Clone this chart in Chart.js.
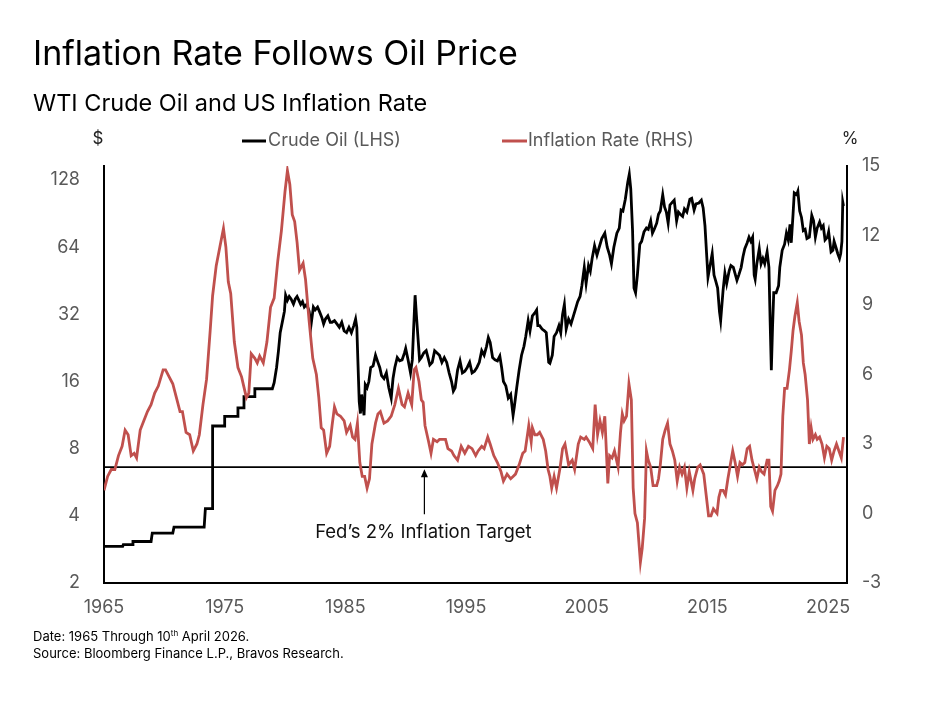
<!DOCTYPE html>
<html>
<head>
<meta charset="utf-8">
<script src="https://cdn.jsdelivr.net/npm/chart.js@4.4.0/dist/chart.umd.min.js"></script>
<style>
  body { margin: 0; background: #fff; font-family: Inter, "Noto Sans", sans-serif; }
  #wrap { position: relative; width: 937px; height: 703px; overflow: hidden; }
  #canvasGrafico { position: absolute; left: 0; top: 0; }
  .txt { position: absolute; white-space: nowrap; color: #000; line-height: 1; }
  #titulo { left: 33px; top: 36px; font-size: 34px; }
  #subtitulo { left: 33px; top: 91px; font-size: 23.5px; }
  #nota { left: 33px; top: 628px; font-size: 13px; line-height: 17px; }
  #nota sup { font-size: 8px; line-height: 0; }
</style>
</head>
<body>
<div id="wrap">
  <canvas id="canvasGrafico" width="937" height="703"></canvas>
  <div class="txt" id="titulo">Inflation Rate Follows Oil Price</div>
  <div class="txt" id="subtitulo">WTI Crude Oil and US Inflation Rate</div>
  <div class="txt" id="nota">Date: 1965 Through 10<sup>th</sup> April 2026.<br>Source: Bloomberg Finance L.P., Bravos Research.</div>
</div>
<script>
// WTI crude oil, $ per barrel (left axis, log scale)
const oilDates = [
  1965.0, 1966.55, 1966.6, 1967.35, 1967.4, 1968.9, 1969.0, 1970.7, 1970.8, 1973.3,
  1973.4, 1973.95, 1974.0, 1974.95, 1975.0, 1976.05, 1976.1, 1976.55, 1976.6, 1977.45,
  1977.5, 1978.95, 1979.1, 1979.3, 1979.45, 1979.6, 1979.8, 1979.95, 1980.05, 1980.2,
  1980.35, 1980.5, 1980.7, 1980.85, 1981.0, 1981.15, 1981.3, 1981.45, 1981.6, 1981.8,
  1982.0, 1982.15, 1982.35, 1982.5, 1982.7, 1982.85, 1983.05, 1983.2, 1983.35, 1983.55,
  1983.75, 1983.9, 1984.1, 1984.3, 1984.5, 1984.7, 1984.9, 1985.1, 1985.3, 1985.5,
  1985.7, 1985.85, 1985.95, 1986.05, 1986.15, 1986.25, 1986.35, 1986.45, 1986.55, 1986.65,
  1986.8, 1986.95, 1987.1, 1987.3, 1987.5, 1987.7, 1987.85, 1988.0, 1988.2, 1988.4,
  1988.6, 1988.8, 1988.95, 1989.1, 1989.3, 1989.5, 1989.7, 1989.9, 1990.0, 1990.2,
  1990.4, 1990.55, 1990.65, 1990.78, 1990.9, 1991.0, 1991.15, 1991.3, 1991.5, 1991.7,
  1991.85, 1992.0, 1992.2, 1992.4, 1992.6, 1992.8, 1993.0, 1993.2, 1993.4, 1993.6,
  1993.8, 1993.95, 1994.1, 1994.3, 1994.5, 1994.7, 1994.9, 1995.1, 1995.3, 1995.5,
  1995.7, 1995.9, 1996.1, 1996.3, 1996.5, 1996.7, 1996.85, 1997.0, 1997.2, 1997.4,
  1997.6, 1997.8, 1997.95, 1998.1, 1998.3, 1998.5, 1998.7, 1998.9, 1999.0, 1999.2,
  1999.4, 1999.6, 1999.8, 1999.95, 2000.15, 2000.3, 2000.5, 2000.7, 2000.85, 2000.95,
  2001.1, 2001.3, 2001.5, 2001.65, 2001.85, 2001.95, 2002.15, 2002.3, 2002.5, 2002.7,
  2002.85, 2003.0, 2003.15, 2003.3, 2003.5, 2003.7, 2003.9, 2004.05, 2004.25, 2004.45,
  2004.6, 2004.8, 2004.95, 2005.15, 2005.3, 2005.45, 2005.65, 2005.85, 2006.0, 2006.25,
  2006.5, 2006.7, 2006.9, 2007.05, 2007.25, 2007.5, 2007.7, 2007.85, 2008.0, 2008.2,
  2008.4, 2008.53, 2008.65, 2008.8, 2008.92, 2009.05, 2009.2, 2009.4, 2009.55, 2009.75,
  2009.95, 2010.1, 2010.3, 2010.45, 2010.6, 2010.8, 2010.95, 2011.1, 2011.3, 2011.45,
  2011.6, 2011.75, 2011.9, 2012.1, 2012.25, 2012.45, 2012.6, 2012.75, 2012.95, 2013.1,
  2013.3, 2013.55, 2013.7, 2013.9, 2014.05, 2014.3, 2014.5, 2014.65, 2014.8, 2014.95,
  2015.05, 2015.25, 2015.4, 2015.55, 2015.7, 2015.85, 2016.0, 2016.1, 2016.3, 2016.45,
  2016.6, 2016.8, 2016.95, 2017.15, 2017.45, 2017.6, 2017.8, 2017.95, 2018.1, 2018.3,
  2018.45, 2018.6, 2018.75, 2018.88, 2018.96, 2019.1, 2019.3, 2019.45, 2019.6, 2019.75,
  2019.95, 2020.1, 2020.2, 2020.3, 2020.4, 2020.5, 2020.7, 2020.9, 2021.0, 2021.2,
  2021.4, 2021.55, 2021.7, 2021.85, 2021.95, 2022.1, 2022.2, 2022.4, 2022.5, 2022.65,
  2022.8, 2022.95, 2023.1, 2023.25, 2023.45, 2023.65, 2023.8, 2023.95, 2024.1, 2024.3,
  2024.45, 2024.6, 2024.75, 2024.95, 2025.05, 2025.25, 2025.4, 2025.5, 2025.65, 2025.8,
  2025.95, 2026.05, 2026.15, 2026.22, 2026.28
];
const oilPrices = [
  2.92, 2.92, 2.97, 2.97, 3.07, 3.07, 3.35, 3.35, 3.56, 3.56,
  4.31, 4.31, 10.11, 10.11, 11.16, 11.16, 12.2, 12.2, 13.7, 13.7,
  14.85, 14.85, 15.8, 18.5, 21.8, 26.5, 30, 33, 39, 37,
  38.5, 37.5, 35.6, 37.5, 38.5, 37, 35.5, 36.5, 34.5, 35.5,
  33, 28.5, 34.5, 33.5, 34.5, 33, 31, 29, 30.5, 31.5,
  29.5, 29.5, 30, 29, 28, 29.5, 27, 26.5, 28, 26.5,
  28.5, 30.5, 28, 19, 13, 11.5, 14, 12.5, 11.3, 15.5,
  15, 16, 18.5, 18.8, 21, 19.5, 18.5, 17, 16.5, 17.5,
  15, 13.5, 16.5, 18.5, 20.5, 19.8, 20, 21.5, 22.5, 20,
  17.5, 20, 27, 39, 31, 26, 20, 20.5, 21.5, 22,
  20.5, 19, 19.5, 22, 21.5, 21, 19.5, 20.5, 19.5, 17.5,
  16, 14.5, 15, 18, 19.8, 17.5, 17.8, 18.5, 19.5, 17.5,
  17.8, 18.5, 19.5, 22, 21, 23, 25.2, 24, 20.5, 20,
  19.8, 20.8, 18.5, 16, 15.3, 13.5, 14, 11.3, 12.3, 15,
  18, 21, 23, 25.5, 30, 27, 31.5, 32.5, 33.5, 28.5,
  28.5, 27.5, 27, 26.5, 19.5, 19.3, 21, 25.5, 26.5, 28.5,
  26.5, 32, 35.5, 27.5, 30.5, 29, 31.5, 33.5, 36.5, 38.5,
  43, 52, 44, 53, 50, 57, 65, 59, 63, 70,
  74, 64, 59, 54, 64, 74, 78, 94, 93, 105,
  125, 136, 117, 76, 42, 40, 48, 66, 68, 75,
  78, 77, 84, 74, 77, 82, 90, 93, 110, 97,
  92, 82, 99, 102, 104, 84, 92, 90, 88, 95,
  92, 105, 106, 94, 100, 101, 104, 96, 80, 58,
  47, 54, 60, 48, 45, 42, 33, 30, 41, 49,
  44, 50, 53, 52, 45.5, 48, 52, 58, 63, 67,
  71, 68, 71, 48, 46, 54, 63, 54, 57, 54,
  61, 52, 30, 18, 28, 40, 40, 43, 52, 62,
  66, 74, 69, 81, 67, 90, 112, 110, 114, 93,
  87, 76, 77, 70, 71, 89, 84, 71, 78, 83,
  78, 80, 69, 71, 75, 61, 62, 68, 64, 60,
  57, 60, 68, 102, 98
];

// US CPI inflation, % year over year (right axis)
const cpiDates = [
  1965.0, 1965.3, 1965.6, 1965.9, 1966.2, 1966.5, 1966.75, 1967.0, 1967.25, 1967.5,
  1967.7, 1968.0, 1968.3, 1968.6, 1968.9, 1969.2, 1969.5, 1969.9, 1970.1, 1970.4,
  1970.7, 1971.0, 1971.3, 1971.5, 1971.8, 1972.1, 1972.4, 1972.7, 1972.9, 1973.2,
  1973.5, 1973.8, 1974.0, 1974.3, 1974.6, 1974.9, 1975.1, 1975.3, 1975.5, 1975.8,
  1976.1, 1976.4, 1976.8, 1977.0, 1977.2, 1977.5, 1977.7, 1977.9, 1978.2, 1978.5,
  1978.8, 1979.1, 1979.4, 1979.7, 1980.0, 1980.2, 1980.4, 1980.6, 1980.8, 1981.0,
  1981.2, 1981.5, 1981.7, 1982.0, 1982.3, 1982.6, 1982.8, 1983.0, 1983.2, 1983.45,
  1983.7, 1983.9, 1984.1, 1984.3, 1984.6, 1984.9, 1985.1, 1985.4, 1985.6, 1985.8,
  1986.0, 1986.2, 1986.4, 1986.6, 1986.8, 1987.0, 1987.2, 1987.5, 1987.7, 1987.9,
  1988.2, 1988.5, 1988.8, 1989.1, 1989.4, 1989.7, 1989.9, 1990.2, 1990.5, 1990.7,
  1990.85, 1991.1, 1991.3, 1991.45, 1991.6, 1991.9, 1992.1, 1992.3, 1992.6, 1992.8,
  1993.0, 1993.3, 1993.5, 1993.8, 1994.0, 1994.3, 1994.6, 1994.9, 1995.2, 1995.5,
  1995.8, 1996.0, 1996.3, 1996.5, 1996.8, 1997.0, 1997.3, 1997.6, 1997.9, 1998.1,
  1998.4, 1998.7, 1998.9, 1999.1, 1999.4, 1999.7, 1999.9, 2000.2, 2000.4, 2000.5,
  2000.7, 2000.9, 2001.1, 2001.4, 2001.6, 2001.8, 2001.95, 2002.1, 2002.3, 2002.5,
  2002.8, 2003.0, 2003.2, 2003.5, 2003.8, 2004.0, 2004.3, 2004.5, 2004.8, 2004.95,
  2005.2, 2005.5, 2005.7, 2005.9, 2006.1, 2006.3, 2006.5, 2006.75, 2006.9, 2007.1,
  2007.3, 2007.6, 2007.8, 2007.95, 2008.1, 2008.3, 2008.5, 2008.7, 2008.85, 2009.0,
  2009.2, 2009.45, 2009.6, 2009.8, 2009.95, 2010.1, 2010.3, 2010.5, 2010.8, 2010.95,
  2011.1, 2011.3, 2011.5, 2011.7, 2011.9, 2012.1, 2012.3, 2012.5, 2012.7, 2012.9,
  2013.1, 2013.3, 2013.5, 2013.8, 2013.95, 2014.2, 2014.4, 2014.7, 2014.9, 2015.1,
  2015.3, 2015.5, 2015.8, 2015.95, 2016.1, 2016.3, 2016.5, 2016.7, 2016.9, 2017.1,
  2017.3, 2017.5, 2017.7, 2017.9, 2018.1, 2018.3, 2018.5, 2018.7, 2018.9, 2019.1,
  2019.3, 2019.5, 2019.7, 2019.95, 2020.1, 2020.25, 2020.4, 2020.6, 2020.8, 2020.95,
  2021.1, 2021.25, 2021.4, 2021.6, 2021.8, 2021.95, 2022.1, 2022.25, 2022.45, 2022.6,
  2022.8, 2022.95, 2023.1, 2023.3, 2023.45, 2023.6, 2023.75, 2023.95, 2024.1, 2024.3,
  2024.5, 2024.7, 2024.9, 2025.1, 2025.3, 2025.5, 2025.7, 2025.9, 2026.1, 2026.28
];
const cpiRates = [
  1.0, 1.6, 1.9, 1.9, 2.5, 2.9, 3.6, 3.4, 2.5, 2.6,
  2.4, 3.6, 4.0, 4.4, 4.7, 5.2, 5.5, 6.2, 6.2, 5.9,
  5.6, 5.0, 4.4, 4.4, 3.5, 3.4, 2.7, 3.0, 3.4, 4.7,
  5.8, 7.9, 9.4, 10.7, 11.5, 12.3, 11.5, 10.0, 9.5, 7.4,
  6.3, 5.9, 5.0, 5.2, 6.9, 6.7, 6.5, 6.8, 6.5, 7.4,
  8.9, 9.3, 10.9, 12.2, 13.9, 14.8, 14.2, 12.9, 12.6, 11.7,
  10.5, 10.8, 10.1, 8.3, 6.7, 6.0, 5.0, 3.7, 3.6, 2.6,
  2.9, 3.8, 4.6, 4.3, 4.2, 4.0, 3.5, 3.8, 3.3, 3.2,
  3.9, 2.2, 1.6, 1.6, 1.1, 1.5, 3.0, 3.9, 4.3, 4.4,
  3.9, 4.0, 4.2, 4.7, 5.4, 4.7, 4.6, 5.2, 4.7, 6.2,
  6.3, 5.7, 4.9, 4.8, 3.8, 3.1, 2.6, 3.2, 3.1, 3.2,
  3.2, 3.2, 2.8, 2.7, 2.5, 2.3, 2.9, 2.6, 2.9, 2.8,
  2.5, 2.7, 2.9, 2.8, 3.3, 3.0, 2.5, 2.2, 1.8, 1.4,
  1.7, 1.5, 1.6, 1.7, 2.1, 2.6, 2.7, 3.8, 3.1, 3.7,
  3.4, 3.4, 3.5, 3.2, 2.7, 1.9, 1.6, 1.1, 1.6, 1.1,
  2.0, 2.8, 3.0, 2.1, 2.3, 1.9, 3.0, 3.3, 3.2, 3.3,
  3.1, 2.8, 4.7, 3.4, 4.0, 3.5, 4.2, 1.3, 2.5, 2.4,
  2.7, 2.0, 3.5, 4.3, 4.0, 4.2, 5.6, 4.9, 1.1, 0.0,
  -0.4, -2.1, -1.5, -0.2, 2.7, 2.3, 2.0, 1.2, 1.2, 1.5,
  2.1, 3.2, 3.6, 3.9, 3.0, 2.7, 2.3, 1.4, 2.0, 1.7,
  2.0, 1.1, 1.8, 1.0, 1.5, 2.0, 2.1, 1.7, 0.8, -0.1,
  -0.1, 0.2, 0.0, 0.7, 1.0, 1.0, 0.8, 1.5, 2.1, 2.7,
  2.2, 1.6, 2.2, 2.1, 2.2, 2.8, 2.9, 2.3, 1.9, 1.5,
  2.0, 1.8, 1.7, 2.3, 2.3, 0.3, 0.1, 1.0, 1.2, 1.4,
  1.7, 4.2, 5.4, 5.4, 6.2, 7.0, 7.9, 8.5, 9.1, 8.3,
  7.7, 6.5, 6.0, 4.9, 3.0, 3.7, 3.2, 3.4, 3.2, 3.3,
  3.0, 2.4, 2.9, 2.8, 2.3, 2.7, 3.0, 2.7, 2.4, 3.3
];

const yearTicks = [1965, 1975, 1985, 1995, 2005, 2015, 2025];
const oilTicks = [2, 4, 8, 16, 32, 64, 128];
const cpiTicks = [-3, 0, 3, 6, 9, 12, 15];
const fedTarget = 2;
const fedTargetYear = 1991.55;

const corOleo = '#000000';
const corInflacao = '#C0504D';
const cinza = '#595959';
const fonte = 'Inter';

const oilPoints = oilDates.map(function (d, i) { return { x: d, y: oilPrices[i] }; });
const cpiPoints = cpiDates.map(function (d, i) { return { x: d, y: cpiRates[i] }; });

// legenda, $ / % e a seta da meta do Fed
const extras = {
  id: 'extras',
  afterDraw: function (chart) {
    const ctx = chart.ctx;
    const xs = chart.scales.x;
    const y1 = chart.scales.y1;
    ctx.save();

    ctx.font = '17px ' + fonte;
    ctx.textBaseline = 'middle';
    ctx.fillStyle = '#222';
    ctx.textAlign = 'center';
    ctx.fillText('$', 98, 139);
    ctx.fillText('%', 850, 139);

    // legenda
    ctx.lineWidth = 3;
    ctx.strokeStyle = corOleo;
    ctx.beginPath(); ctx.moveTo(242, 141); ctx.lineTo(266, 141); ctx.stroke();
    ctx.strokeStyle = corInflacao;
    ctx.beginPath(); ctx.moveTo(502, 141); ctx.lineTo(527, 141); ctx.stroke();
    ctx.font = '18px ' + fonte;
    ctx.fillStyle = cinza;
    ctx.textAlign = 'left';
    ctx.fillText('Crude Oil (LHS)', 268, 141);
    ctx.fillText('Inflation Rate (RHS)', 528, 141);

    // seta
    const ax = xs.getPixelForValue(fedTargetYear);
    const topo = y1.getPixelForValue(fedTarget) + 2;
    const base = topo + 45;
    ctx.strokeStyle = '#000';
    ctx.fillStyle = '#000';
    ctx.lineWidth = 1.2;
    ctx.beginPath(); ctx.moveTo(ax, base); ctx.lineTo(ax, topo + 6); ctx.stroke();
    ctx.beginPath();
    ctx.moveTo(ax, topo);
    ctx.lineTo(ax - 3.5, topo + 8);
    ctx.lineTo(ax + 3.5, topo + 8);
    ctx.closePath();
    ctx.fill();

    ctx.font = '18.5px ' + fonte;
    ctx.textAlign = 'center';
    ctx.fillStyle = '#111';
    ctx.fillText('Fed\u2019s 2% Inflation Target', ax - 1, base + 18);
    ctx.restore();
  }
};

const config = {
  type: 'line',
  data: {
    datasets: [
      {
        label: 'Inflation Rate (RHS)',
        data: cpiPoints,
        yAxisID: 'y1',
        borderColor: corInflacao,
        borderWidth: 2.8,
        pointRadius: 0,
        order: 0
      },
      {
        label: 'Crude Oil (LHS)',
        data: oilPoints,
        yAxisID: 'y',
        borderColor: corOleo,
        borderWidth: 2.8,
        pointRadius: 0,
        order: 1
      },
      {
        label: 'Fed target',
        data: [{ x: yearTicks[0], y: fedTarget }, { x: 2026.57, y: fedTarget }],
        yAxisID: 'y1',
        borderColor: '#000',
        borderWidth: 1.8,
        pointRadius: 0,
        order: 2
      }
    ]
  },
  options: {
    responsive: false,
    animation: false,
    layout: { padding: { top: 166, left: 0, right: 0, bottom: 0 } },
    plugins: { legend: { display: false }, tooltip: { enabled: false }, title: { display: false } },
    scales: {
      x: {
        type: 'linear',
        min: 1965,
        max: 2026.57,
        afterBuildTicks: function (s) { s.ticks = yearTicks.map(function (v) { return { value: v }; }); },
        afterFit: function (s) { s.height = 120; },
        ticks: { autoSkip: false, maxRotation: 0, padding: 6, color: cinza, font: { family: fonte, size: 18 },
          callback: function (v) { return String(v); } },
        grid: { display: false },
        border: { display: true, color: '#000', width: 2 }
      },
      y: {
        type: 'logarithmic',
        position: 'left',
        min: 2,
        max: 148,
        afterBuildTicks: function (s) { s.ticks = oilTicks.map(function (v) { return { value: v }; }); },
        afterFit: function (s) { s.width = 104; },
        ticks: { padding: 16, color: cinza, font: { family: fonte, size: 18 },
          callback: function (v) { return String(v); } },
        grid: { display: false },
        border: { display: true, color: '#000', width: 2 }
      },
      y1: {
        type: 'linear',
        position: 'right',
        min: -3,
        max: 15,
        afterBuildTicks: function (s) { s.ticks = cpiTicks.map(function (v) { return { value: v }; }); },
        afterFit: function (s) { s.width = 90; },
        ticks: { padding: 7, color: cinza, font: { family: fonte, size: 18 },
          callback: function (v) { return String(v); } },
        grid: { display: false },
        border: { display: true, color: '#000', width: 2 }
      }
    }
  },
  plugins: [extras]
};

const graficoDash = new Chart(document.getElementById('canvasGrafico'), config);
</script>
</body>
</html>
